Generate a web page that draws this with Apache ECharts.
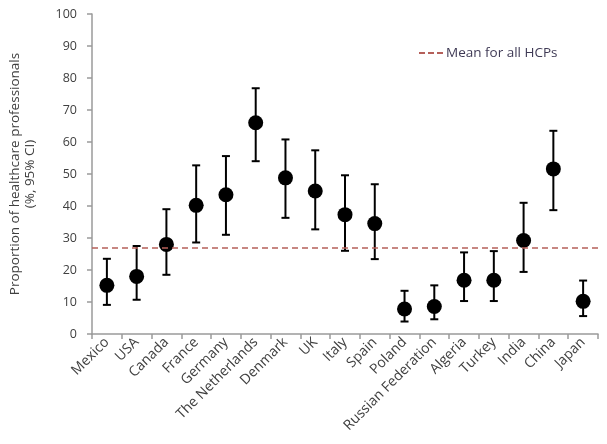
<!DOCTYPE html>
<html>
<head>
<meta charset="utf-8">
<script src="https://cdn.jsdelivr.net/npm/echarts@6/dist/echarts.min.js"></script>
<style>
  html, body { margin: 0; padding: 0; background: #fff; }
  #chart { width: 607px; height: 444px; }
</style>
</head>
<body>
<div id="chart"></div>
<script>
// Data
const countries = ['Mexico', 'USA', 'Canada', 'France', 'Germany', 'The Netherlands', 'Denmark', 'UK',
  'Italy', 'Spain', 'Poland', 'Russian Federation', 'Algeria', 'Turkey', 'India', 'China', 'Japan'];
const proportion = [15.2, 18.0, 28.0, 40.2, 43.5, 66.0, 48.8, 44.7, 37.3, 34.5, 7.8, 8.6, 16.8, 16.8, 29.2, 51.6, 10.2];
const ciLower = [9.1, 10.7, 18.5, 28.6, 31.0, 54.0, 36.3, 32.7, 26.0, 23.4, 3.9, 4.6, 10.3, 10.3, 19.4, 38.7, 5.6];
const ciUpper = [23.5, 27.5, 39.0, 52.7, 55.6, 76.8, 60.8, 57.4, 49.6, 46.8, 13.5, 15.2, 25.5, 25.9, 41.0, 63.5, 16.7];
const meanAllHCPs = 27;
const meanLabel = 'Mean for all HCPs';

const chart = echarts.init(document.getElementById('chart'));

const textColor = '#404040';
const axisColor = '#9a9a9a';
const meanColor = '#b5605a';

// Error bars: vertical line with small caps
function renderErrorBar(params, api) {
  const idx = api.value(0);
  const lo = api.coord([idx, api.value(1)]);
  const hi = api.coord([idx, api.value(2)]);
  const cap = 4;
  const style = { stroke: '#000', lineWidth: 2 };
  return {
    type: 'group',
    children: [
      { type: 'line', shape: { x1: hi[0], y1: hi[1], x2: lo[0], y2: lo[1] }, style: style },
      { type: 'line', shape: { x1: hi[0] - cap, y1: hi[1], x2: hi[0] + cap, y2: hi[1] }, style: style },
      { type: 'line', shape: { x1: lo[0] - cap, y1: lo[1], x2: lo[0] + cap, y2: lo[1] }, style: style }
    ]
  };
}

const option = {
  animation: false,
  textStyle: { fontFamily: 'Open Sans' },
  grid: { left: 91, right: 9, top: 14, bottom: 110 },
  legend: {
    left: 414,
    top: 41,
    itemWidth: 24,
    itemHeight: 2,
    itemGap: 4,
    data: [{ name: meanLabel, icon: 'path://M0,0h6v2h-6z M9,0h6v2h-6z M18,0h6v2h-6z' }],
    textStyle: { fontSize: 13.5, color: '#3f3a55', padding: [0, 0, 0, -2] }
  },
  xAxis: {
    type: 'category',
    data: countries,
    boundaryGap: true,
    axisLine: { lineStyle: { color: axisColor, width: 1.5 } },
    axisTick: { show: true, length: 5, lineStyle: { color: axisColor, width: 1.5 } },
    axisLabel: { rotate: 45, fontSize: 14, color: textColor, margin: 6, interval: 0 }
  },
  yAxis: {
    type: 'value',
    min: 0,
    max: 100,
    interval: 10,
    name: 'Proportion of healthcare professionals\n(%, 95% CI)',
    nameLocation: 'middle',
    nameRotate: 90,
    nameGap: 54,
    nameTextStyle: { fontSize: 13.5, color: textColor, lineHeight: 15 },
    splitLine: { show: false },
    axisLine: { show: true, lineStyle: { color: axisColor, width: 1.5 } },
    axisTick: { show: true, length: 5, lineStyle: { color: axisColor, width: 1.5 } },
    axisLabel: { fontSize: 12.5, color: textColor, margin: 15 }
  },
  series: [
    {
      name: meanLabel,
      type: 'line',
      data: [],
      symbol: 'none',
      lineStyle: { color: meanColor, type: [6, 4], width: 1.5 },
      itemStyle: { color: meanColor },
      markLine: {
        silent: true,
        symbol: 'none',
        label: { show: false },
        lineStyle: { color: meanColor, type: [6, 4], width: 1.5 },
        data: [{ yAxis: meanAllHCPs }]
      }
    },
    {
      type: 'custom',
      renderItem: renderErrorBar,
      data: countries.map((c, i) => [i, ciLower[i], ciUpper[i]]),
      z: 3
    },
    {
      type: 'scatter',
      data: proportion,
      symbol: 'circle',
      symbolSize: 15,
      itemStyle: { color: '#000', opacity: 1 },
      z: 4
    }
  ]
};

chart.setOption(option);
</script>
</body>
</html>
